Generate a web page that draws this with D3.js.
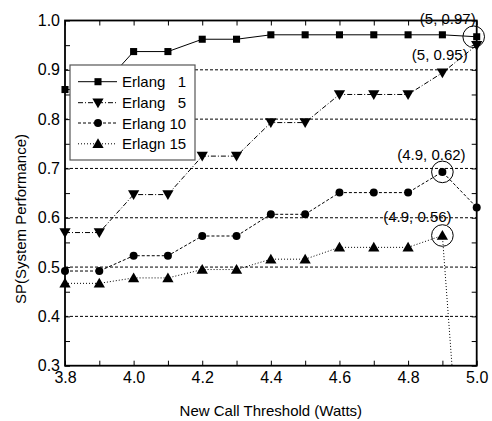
<!DOCTYPE html>
<html><head><meta charset="utf-8">
<script src="https://cdn.jsdelivr.net/npm/d3@7/dist/d3.min.js"></script>
<style>body{margin:0;background:#fff}svg{display:block;font-family:Arial,"Liberation Sans",sans-serif}</style>
</head><body><svg id="c" width="492" height="421"></svg>
<script>
const xValues = [3.8, 3.9, 4.0, 4.1, 4.2, 4.3, 4.4, 4.5, 4.6, 4.7, 4.8, 4.9, 5.0];
const erlang1  = [0.860, 0.860, 0.937, 0.937, 0.962, 0.962, 0.971, 0.971, 0.971, 0.971, 0.971, 0.971, 0.967];
const erlang5  = [0.570, 0.570, 0.647, 0.647, 0.725, 0.725, 0.793, 0.793, 0.850, 0.850, 0.850, 0.894, 0.950];
const erlang10 = [0.492, 0.492, 0.523, 0.523, 0.563, 0.563, 0.607, 0.607, 0.651, 0.651, 0.651, 0.693, 0.621];
const erlang15 = [0.467, 0.467, 0.478, 0.478, 0.495, 0.495, 0.516, 0.516, 0.540, 0.540, 0.540, 0.564, -0.38];
const seriesNames = ["Erlang   1", "Erlang   5", "Erlang 10", "Erlagn 15"];
const xTicks = [3.8, 4.0, 4.2, 4.4, 4.6, 4.8, 5.0];
const yTicks = [0.3, 0.4, 0.5, 0.6, 0.7, 0.8, 0.9, 1.0];
const gridValues = [0.4, 0.5, 0.6, 0.7, 0.8, 0.9];
const annotations = [
  {x: 5.0, y: 0.967, label: "(5, 0.97)", circle: true},
  {x: 5.0, y: 0.950, label: "(5, 0.95)", circle: false},
  {x: 4.9, y: 0.693, label: "(4.9, 0.62)", circle: true},
  {x: 4.9, y: 0.564, label: "(4.9, 0.56)", circle: true}
];

const svg = d3.select("#c");
const L = 65, R = 476.7, T = 20.5, B = 365.7;
const x = d3.scaleLinear().domain([3.8, 5.0]).range([L, R]);
const y = d3.scaleLinear().domain([0.3, 1.0]).range([B, T]);

svg.append("defs").append("clipPath").attr("id","clip")
  .append("rect").attr("x", L).attr("y", T).attr("width", R-L).attr("height", B-T);

// grid
svg.append("g").selectAll("line").data(gridValues).join("line")
  .attr("x1", L).attr("x2", R).attr("y1", d=>y(d)).attr("y2", d=>y(d))
  .attr("stroke", "#000").attr("stroke-width", 1).attr("stroke-dasharray", "3,2");

// axes with inner ticks
const fmt = d3.format(".1f");
const minorY = d3.range(0.3, 1.0001, 0.05);
const minorX = d3.range(3.8, 5.0001, 0.1);
svg.append("g").attr("transform", `translate(${L},0)`)
  .call(d3.axisLeft(y).tickValues(minorY).tickSize(-5).tickFormat(""))
  .call(g=>g.select(".domain").remove());
svg.append("g").attr("transform", `translate(${R},0)`)
  .call(d3.axisRight(y).tickValues(minorY).tickSize(-5).tickFormat(""))
  .call(g=>g.select(".domain").remove());
svg.append("g").attr("transform", `translate(0,${B})`)
  .call(d3.axisBottom(x).tickValues(minorX).tickSize(-5).tickFormat(""))
  .call(g=>g.select(".domain").remove());
svg.append("g").attr("transform", `translate(0,${T})`)
  .call(d3.axisTop(x).tickValues(minorX).tickSize(-5).tickFormat(""))
  .call(g=>g.select(".domain").remove());

// tick labels
svg.append("g").attr("transform", `translate(${L},0)`)
  .call(d3.axisLeft(y).tickValues(yTicks).tickSize(0).tickPadding(5).tickFormat(fmt))
  .call(g=>g.select(".domain").remove())
  .call(g=>g.selectAll("text").attr("font-size", 16).attr("fill","#000").attr("font-family","Arial, Liberation Sans, sans-serif"));
svg.append("g").attr("transform", `translate(0,${B})`)
  .call(d3.axisBottom(x).tickValues(xTicks).tickSize(0).tickPadding(6).tickFormat(fmt))
  .call(g=>g.select(".domain").remove())
  .call(g=>g.selectAll("text").attr("font-size", 16).attr("fill","#000").attr("font-family","Arial, Liberation Sans, sans-serif"));

// frame
svg.append("rect").attr("x", L).attr("y", T).attr("width", R-L).attr("height", B-T)
  .attr("fill","none").attr("stroke","#000").attr("stroke-width", 1.8);

const series = [erlang1, erlang5, erlang10, erlang15];
const dashes = [null, "5,2,1,2", "3,2", "1,2"];
const markers = [d3.symbolSquare, d3.symbolTriangle, d3.symbolCircle, d3.symbolTriangle];
const mSizes = [50, 55, 50, 55];
const rot = [0, 180, 0, 0];
const line = d3.line().x((d,i)=>x(xValues[i])).y(d=>y(d));

series.forEach((s, k) => {
  svg.append("path").datum(s).attr("d", line).attr("clip-path","url(#clip)")
    .attr("fill","none").attr("stroke","#000").attr("stroke-width", 1)
    .attr("stroke-dasharray", dashes[k]);
  svg.append("g").selectAll("path").data(s.map((v,i)=>[xValues[i], v]).filter(d=>d[1]>=0.3 && d[1]<=1.0))
    .join("path")
    .attr("d", d3.symbol().type(markers[k]).size(mSizes[k]))
    .attr("transform", d=>`translate(${x(d[0])},${y(d[1]) + (k===1? -1 : (k===3 ? 1 : 0))}) rotate(${rot[k]})`)
    .attr("fill","#000");
});

// annotations
const annOffsets = [{dx: -1, dy: -13, anchor: "end"}, {dx: -9, dy: 15, anchor: "end"}, {dx: -11, dy: -12, anchor: "middle"}, {dx: -25, dy: -13.6, anchor: "middle"}];
annotations.forEach((a, i) => {
  if (a.circle) svg.append("circle").attr("cx", x(a.x) - (a.x===5.0?3:0)).attr("cy", y(a.y))
    .attr("r", 10.8).attr("fill","none").attr("stroke","#000").attr("stroke-width",1);
  svg.append("text").attr("x", x(a.x) + annOffsets[i].dx).attr("y", y(a.y) + annOffsets[i].dy)
    .attr("text-anchor", annOffsets[i].anchor).attr("font-size", 15).text(a.label);
});

// legend
const lg = svg.append("g");
lg.append("rect").attr("x", 70).attr("y", 65).attr("width", 125).attr("height", 95)
  .attr("fill","#fff").attr("stroke","#555").attr("stroke-width",1.2);
const ly = [81.7, 102.7, 123, 143.8];
seriesNames.forEach((n, k) => {
  lg.append("line").attr("x1", 78).attr("x2", 117).attr("y1", ly[k]).attr("y2", ly[k])
    .attr("stroke","#000").attr("stroke-width",1).attr("stroke-dasharray", dashes[k]);
  lg.append("path").attr("d", d3.symbol().type(markers[k]).size(mSizes[k]))
    .attr("transform", `translate(98,${ly[k] + (k===1? -1 : (k===3 ? 1 : 0))}) rotate(${rot[k]})`).attr("fill","#000");
  lg.append("text").attr("x", 122).attr("y", ly[k] + 5.5).attr("font-size", 15)
    .attr("xml:space","preserve").style("white-space","pre").text(n);
});

// axis titles
svg.append("text").attr("x", (L+R)/2).attr("y", 416).attr("text-anchor","middle").attr("font-size", 15)
  .text("New Call Threshold (Watts)");
svg.append("text").attr("transform", `translate(26,219) rotate(-90)`).attr("text-anchor","middle").attr("font-size", 15)
  .text("SP(System Performance)");
</script></body></html>
